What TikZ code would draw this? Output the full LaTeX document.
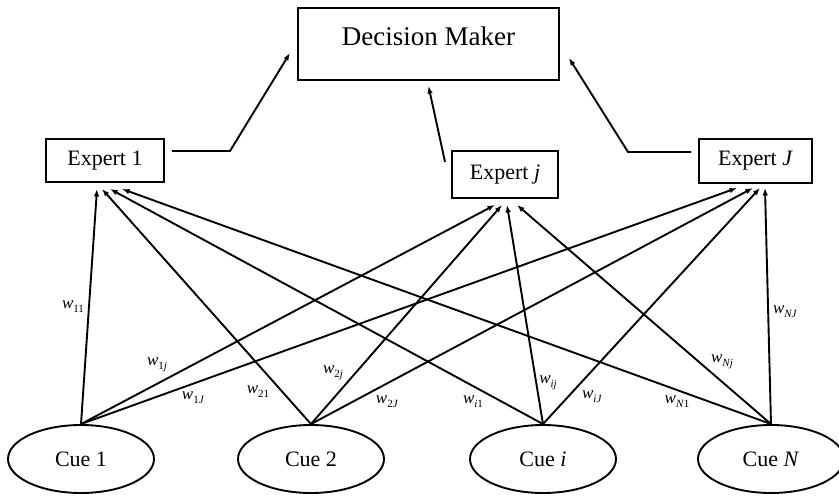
\documentclass[tikz,border=0pt]{standalone}
\usepackage{fontspec}
\setmainfont{Liberation Serif}
\usetikzlibrary{shapes.geometric,arrows.meta}
\newcommand{\wl}[1]{\textit{w}\raisebox{-4pt}{\fontsize{11}{12}\selectfont #1}}

\begin{document}
\begin{tikzpicture}
	[x=1pt,y=-1pt,line width=1.9pt,>={Latex[length=7.5pt,width=5.5pt]},
	box/.style={draw,rectangle,inner sep=0pt,
		font=\fontsize{22}{26}\selectfont},
	cue/.style={draw,ellipse,inner sep=0pt,
		minimum width=146pt,minimum height=68pt,
		font=\fontsize{22}{26}\selectfont},
	wlab/.style={inner sep=0pt,font=\fontsize{17}{20}\selectfont}]
	\useasboundingbox (0,0) rectangle (839,497);
	% decision maker and experts
	\node[box,anchor=north west,minimum width=261pt,text height=38pt,
		text depth=34pt,font=\fontsize{27}{32}\selectfont] (dm) at (297,7) {Decision Maker};
	\node[box,minimum width=118pt,minimum height=43pt] (e1) at (105,160.5) {Expert 1};
	\node[box,minimum width=106pt,minimum height=47pt] (ej) at (505,174.5) {Expert \textit{j}};
	\node[box,minimum width=113pt,minimum height=44pt] (eJ) at (755.5,161) {Expert \textit{J}};
	% cues
	\node[cue] (c1) at (81,459) {Cue 1};
	\node[cue] (c2) at (311,459) {Cue 2};
	\node[cue] (ci) at (543,459) {Cue \textit{i}};
	\node[cue] (cN) at (771,459) {Cue \textit{N}};
	% experts to decision maker
	\coordinate (b1) at (230,151);
	\coordinate (bJ) at (628,152);
	\draw[->] ([xshift=7pt,yshift=9.5pt]e1.east) -- (b1) -- ([xshift=-7pt,yshift=-9pt]dm.west);
	\draw[->] ([xshift=-6pt,yshift=-12pt]ej.north west) -- ([yshift=-5pt]dm.south);
	\draw[->] ([xshift=-7pt,yshift=9pt]eJ.west) -- (bJ) -- ([xshift=9pt,yshift=-14pt]dm.east);
	% cues to experts
	\foreach \c/\dx in {c1/-8,c2/-3,ci/5,cN/17}
	\draw[->] (\c.north) -- ([xshift=\dx pt,yshift=-6pt]e1.south);
	\foreach \c/\dx in {c1/-10,c2/-3,ci/2,cN/12}
	\draw[->] (\c.north) -- ([xshift=\dx pt,yshift=-6pt]ej.south);
	\foreach \c/\dx in {c1/-18.5,c2/-2.5,ci/4.5,cN/9.5}
	\draw[->] (\c.north) -- ([xshift=\dx pt,yshift=-4pt]eJ.south);
	% weights
	\node[wlab] (w11) at (73,307) {\wl{11}};
	\node[wlab] (w1j) at (157,365) {\wl{1\textit{j}}};
	\node[wlab] (w1J) at (193,398) {\wl{1\textit{J}}};
	\node[wlab] (w21) at (258,392) {\wl{21}};
	\node[wlab] (w2j) at (333,373) {\wl{2\textit{j}}};
	\node[wlab] (w2J) at (387,402) {\wl{2\textit{J}}};
	\node[wlab] (wi1) at (473,402) {\wl{\textit{i}1}};
	\node[wlab] (wij) at (548,383) {\wl{\textit{ij}}};
	\node[wlab] (wiJ) at (592,397) {\wl{\textit{iJ}}};
	\node[wlab] (wN1) at (677,402) {\wl{\textit{N}1}};
	\node[wlab] (wNj) at (722,362) {\wl{\textit{Nj}}};
	\node[wlab] (wNJ) at (785,312) {\wl{\textit{NJ}}};
\end{tikzpicture}
\end{document}
